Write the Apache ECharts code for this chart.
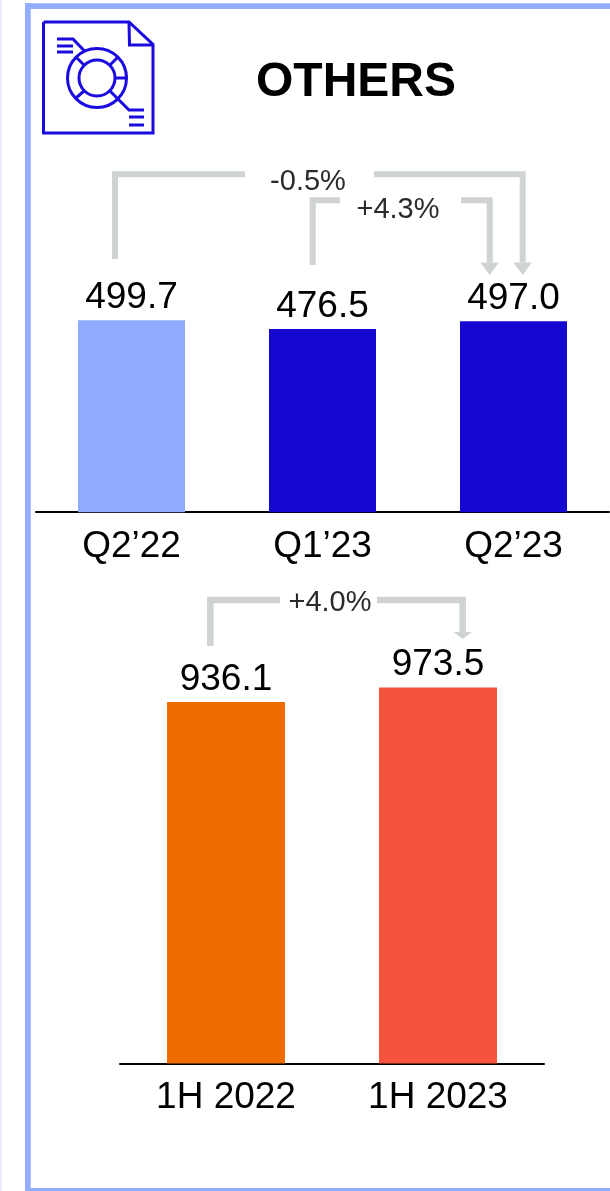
<!DOCTYPE html>
<html><head><meta charset="utf-8">
<style>html,body{margin:0;padding:0;background:#fff}#c{width:610px;height:1191px}</style>
<script src="https://cdn.jsdelivr.net/npm/echarts@6/dist/echarts.min.js"></script>
</head><body><div id="c"></div>
<script>
const title = "OTHERS";
const quarterCats = ["Q2\u201922", "Q1\u201923", "Q2\u201923"];
const quarterVals = [499.7, 476.5, 497.0];
const quarterColors = ["#8FABFF", "#1607D0", "#1607D0"];
const halfCats = ["1H 2022", "1H 2023"];
const halfVals = [936.1, 973.5];
const halfColors = ["#EE6C00", "#F5533D"];
const changeQoQ = "+4.3%";
const changeYoY = "-0.5%";
const changeHalf = "+4.0%";

const FONT = '"Liberation Sans", Arial, sans-serif';
const FRAME = "#92ADFF", ICON = "#1A0AE0", GREY = "#CFD3D3", TXT = "#2B2B2B";

const chart = echarts.init(document.getElementById("c"), null, {renderer: "canvas"});
const barData = (vals, cols) => vals.map((v, i) => ({value: v, itemStyle: {color: cols[i]}}));
const valLabel = {show: true, position: "top", distance: 4, fontFamily: FONT, fontSize: 37, color: "#000",
  formatter: p => p.value.toFixed(1)};
const catAxis = (idx, data) => ({type: "category", gridIndex: idx, data, boundaryGap: true,
  axisLine: {show: true, onZero: false, lineStyle: {color: "#000", width: 2}},
  axisTick: {show: false},
  axisLabel: {fontFamily: FONT, fontSize: 37, color: "#000", margin: 16, interval: 0}});
const valAxis = (idx, max) => ({type: "value", gridIndex: idx, min: 0, max, show: false, splitLine: {show: false}});

chart.setOption({
  animation: false,
  backgroundColor: "#fff",
  grid: [
    {left: 36, width: 573, top: 204.8, height: 307.4},
    {left: 120, width: 424, top: 677.3, height: 386.2}
  ],
  xAxis: [catAxis(0, quarterCats), catAxis(1, halfCats)],
  yAxis: [valAxis(0, 800), valAxis(1, 1000)],
  series: [
    {type: "bar", xAxisIndex: 0, yAxisIndex: 0, barWidth: 107, data: barData(quarterVals, quarterColors), label: valLabel},
    {type: "bar", xAxisIndex: 1, yAxisIndex: 1, barWidth: 118, data: barData(halfVals, halfColors), label: valLabel}
  ]
});

// Annotations anchored on the bars' own category positions
const catX = (g, i) => chart.convertToPixel({xAxisIndex: g}, i);
const line = (pts, w) => ({type: "polyline", shape: {points: pts}, z: 5, silent: true,
  style: {stroke: GREY, lineWidth: w, fill: null, lineJoin: "miter", lineCap: "butt"}});
const head = (x, yBase, yTip, hw) => ({type: "polygon", shape: {points: [[x - hw, yBase], [x + hw, yBase], [x, yTip]]}, z: 5, silent: true,
  style: {fill: GREY}});
const text = (s, x, y, size, color, weight) => ({type: "text", x, y, z: 6, silent: true,
  style: {text: s, fill: color, font: (weight || "normal") + " " + size + "px " + FONT, textAlign: "center", textVerticalAlign: "middle"}});

function bracket(g, from, to, offA, offB, yTop, yStart, gapL, gapR, yBase, yTip, w, label, labelX, labelY) {
  const xa = catX(g, from) + offA, xb = catX(g, to) + offB;
  return [
    line([[xa, yStart], [xa, yTop], [gapL, yTop]], w),
    line([[gapR, yTop], [xb, yTop], [xb, yBase]], w),
    head(xb, yBase, yTip, 9.3),
    text(label, labelX, labelY, 29, TXT)
  ];
}

const iconStroke = (shape, type) => ({type, shape, silent: true, style: {stroke: ICON, lineWidth: 3, fill: null, lineJoin: "miter"}});
const iconLine = pts => iconStroke({points: pts}, "polyline");
const icon = [
  iconLine([[43.5, 22], [129, 22], [153, 44.5], [153, 133], [43.5, 133], [43.5, 22]]),
  iconLine([[129, 22], [129.5, 45], [153, 45]]),
  iconStroke({cx: 97, cy: 78, r: 29.5}, "circle"),
  iconStroke({cx: 97, cy: 78, r: 18}, "circle"),
  iconLine([[57, 39], [73, 39], [85, 51.5]]),
  iconLine([[57, 46], [73, 46]]),
  iconLine([[57, 52], [73, 52]]),
  iconLine([[110, 91], [129, 110], [144, 110]]),
  iconLine([[129, 117], [144, 117]]),
  iconLine([[129, 125], [144, 125]]),
  iconLine([[76, 57], [84, 65]]),
  iconLine([[118, 57], [110, 65]]),
  iconLine([[115, 78], [126, 78]]),
  iconLine([[76, 98], [84, 91]])
];

const frameRect = (x, y, width, height, fill) => ({type: "rect", shape: {x, y, width, height}, silent: true, z: 1, style: {fill}});

chart.setOption({graphic: {elements: [
  frameRect(0, 0, 1.5, 1191, "#E3E9FF"),
  frameRect(25, 3.3, 585, 5.7, FRAME),
  frameRect(25, 3.3, 5.7, 1187.7, FRAME),
  frameRect(25, 1188, 585, 3, FRAME),
  ...icon,
  text(title, 356, 83, 48, "#000", "bold"),
  ...bracket(0, 0, 2, -16.5, 9.2, 174.3, 259, 245, 374, 262.5, 275, 6, changeYoY, 308, 182),
  ...bracket(0, 1, 2, -9.8, -23.8, 200.3, 265, 340, 461, 262.5, 275, 6, changeQoQ, 398, 210),
  ...bracket(1, 0, 1, -15.7, 24.7, 600, 646, 280, 377, 632, 639, 6.5, changeHalf, 330, 603)
]}});
</script></body></html>
